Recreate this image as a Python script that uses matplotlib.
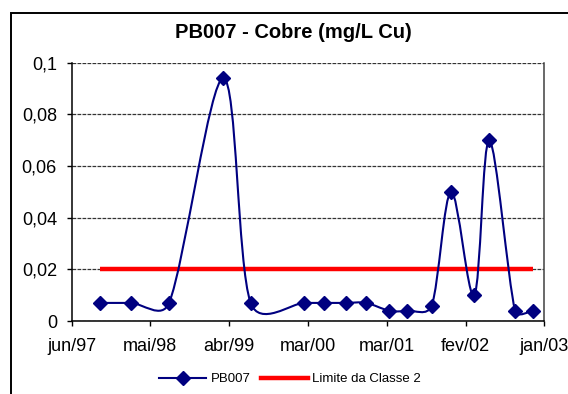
import numpy as np
import matplotlib
matplotlib.use("Agg")
import matplotlib.pyplot as plt
import matplotlib.dates as mdates
from matplotlib.path import Path
from matplotlib.patches import PathPatch, Rectangle
from matplotlib.lines import Line2D

# ---- data ----
sample_dates = ["1997-10-12", "1998-02-23", "1998-08-07", "1999-03-29", "1999-07-25",
                "2000-03-11", "2000-06-05", "2000-09-08", "2000-12-04", "2001-03-14",
                "2001-05-31", "2001-09-13", "2001-12-06", "2002-03-16", "2002-05-20",
                "2002-09-08", "2002-11-23"]
pb007 = [0.007, 0.007, 0.007, 0.094, 0.007,
         0.007, 0.007, 0.007, 0.007, 0.004,
         0.004, 0.006, 0.050, 0.010, 0.070,
         0.004, 0.004]
limite_classe2 = [0.02] * len(sample_dates)

x_tick_labels = ["jun/97", "mai/98", "abr/99", "mar/00", "mar/01", "fev/02", "jan/03"]
x_axis_start = "1997-06-12"
x_tick_step_days = 340
y_ticks = [0, 0.02, 0.04, 0.06, 0.08, 0.1]
y_tick_labels = ["0", "0,02", "0,04", "0,06", "0,08", "0,1"]

title = "PB007 - Cobre (mg/L Cu)"
series_names = ["PB007", "Limite da Classe 2"]

# ---- figure ----
plt.rcParams['font.family'] = ['Liberation Sans', 'DejaVu Sans']
W, H = 568, 394
fig = plt.figure(figsize=(W / 100, H / 100), dpi=100)
fig.patch.set_facecolor('white')

# chart area border (cut off at right/bottom)
fig.patches.append(Rectangle((11 / W, -0.05), 1.1, 1 - 13 / H + 0.05,
                             transform=fig.transFigure, fill=False,
                             edgecolor='black', linewidth=1.4, zorder=0))

ax = fig.add_axes([71.5 / W, 1 - 321 / H, (544.3 - 71.5) / W, (321 - 62.7) / H])

start = mdates.datestr2num(x_axis_start)
xticks = [start + i * x_tick_step_days for i in range(len(x_tick_labels))]
ax.set_xlim(xticks[0], xticks[-1])
ax.set_ylim(0, 0.1)

xd = mdates.datestr2num(sample_dates)
y = np.array(pb007, dtype=float)

# Smoothed line (Excel-like cubic Bezier, computed in screen space)
pts = ax.transData.transform(np.column_stack([xd, y]))
n = len(pts)
verts = [pts[0]]
codes = [Path.MOVETO]
for i in range(n - 1):
    p0 = pts[max(i - 1, 0)]
    p1 = pts[i]
    p2 = pts[i + 1]
    p3 = pts[min(i + 2, n - 1)]
    d12 = np.hypot(*(p2 - p1))
    a1 = (p2 - p0) / 6.0
    a2 = (p3 - p1) / 6.0
    l1 = np.hypot(*a1)
    l2 = np.hypot(*a2)
    if l1 > d12 / 2 and l1 > 0:
        a1 = a1 * (d12 / 2) / l1
    if l2 > d12 / 2 and l2 > 0:
        a2 = a2 * (d12 / 2) / l2
    verts += [p1 + a1, p2 - a2, p2]
    codes += [Path.CURVE4] * 3
verts = ax.transData.inverted().transform(np.array(verts))
navy = '#000080'
ax.add_patch(PathPatch(Path(verts, codes), facecolor='none', edgecolor=navy,
                       linewidth=1.5, zorder=3))
ax.plot(xd, y, linestyle='none', marker='D', markersize=7, color=navy, zorder=4)

ax.plot(xd, limite_classe2, color='#ff0000', linewidth=3.2, solid_capstyle='butt', zorder=2)

# axes
ax.set_xticks(xticks)
ax.set_xticklabels(x_tick_labels)
ax.set_yticks(y_ticks)
ax.set_yticklabels(y_tick_labels)
ax.tick_params(axis='x', direction='out', length=3.5, width=1, pad=9, labelsize=13)
ax.tick_params(axis='y', direction='out', length=3.5, width=1, pad=7, labelsize=13)

ax.yaxis.grid(True, linestyle=(0, (3, 1)), color='#333333', linewidth=0.9)
ax.set_axisbelow(True)
for s in ['left', 'bottom']:
    ax.spines[s].set_color('black')
    ax.spines[s].set_linewidth(1.1)
ax.spines['top'].set_visible(False)
ax.spines['right'].set_color('#404040')
ax.spines['right'].set_linewidth(1.1)

fig.text(293 / W, 1 - 33 / H, title, ha='center', va='center',
         fontsize=14.5, fontweight='bold')

handles = [Line2D([], [], color=navy, linewidth=1.5, marker='D', markersize=7),
           Line2D([], [], color='#ff0000', linewidth=3.2)]
fig.legend(handles, series_names, loc='center', bbox_to_anchor=(290 / W, 1 - 379 / H),
           ncol=2, frameon=False, fontsize=9.5, handlelength=3.6, columnspacing=0.8,
           handletextpad=0.3)

fig.savefig('out.png', dpi=100)
